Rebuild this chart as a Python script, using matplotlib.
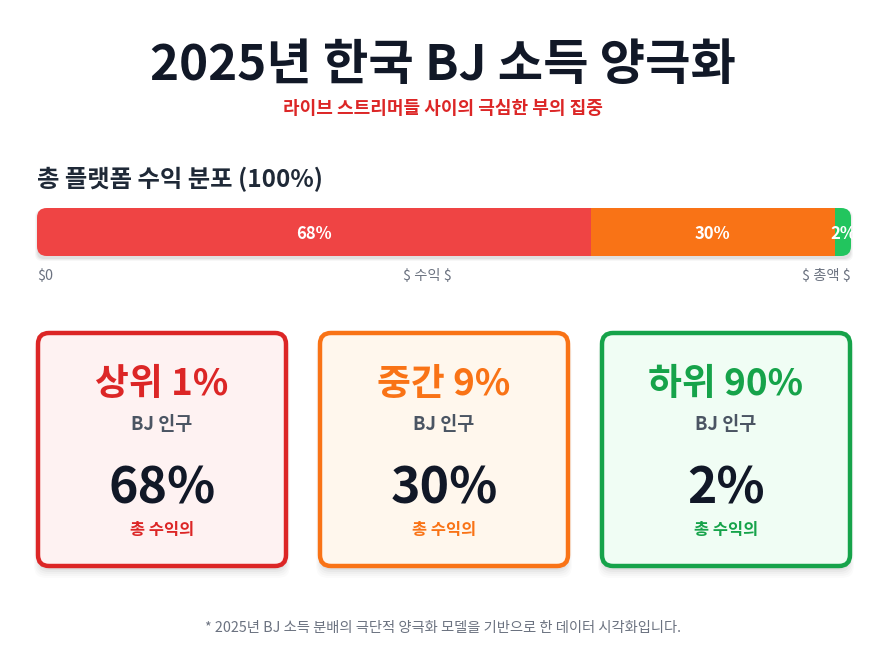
import numpy as np
import matplotlib.pyplot as plt
from matplotlib.patches import FancyBboxPatch

plt.rcParams['font.family'] = ['Noto Sans CJK KR', 'DejaVu Sans']

# 데이터
groups = ['상위 1%', '중간 9%', '하위 90%']
shares = [68, 30, 2]
bar_labels = ['68%', '30%', '2%']
main_colors = ['#dc2626', '#f97316', '#16a34a']
bar_colors = ['#ef4444', '#f97316', '#22c55e']
card_bg = ['#fef2f2', '#fff7ed', '#f0fdf4']
axis_labels = ['$0', '$ 수익 $', '$ 총액 $']

W, H = 886, 672
fig = plt.figure(figsize=(W / 100, H / 100), dpi=100)
fig.patch.set_facecolor('white')

# 전체 캔버스 (픽셀 좌표)
bg = fig.add_axes([0, 0, 1, 1])
bg.set_xlim(0, W)
bg.set_ylim(H, 0)
bg.axis('off')

bg.text(W / 2, 66, '2025년 한국 BJ 소득 양극화', ha='center', va='center',
        fontsize=35.5, fontweight='bold', color='#111827')
bg.text(W / 2, 108, '라이브 스트리머들 사이의 극심한 부의 집중', ha='center', va='center',
        fontsize=13, fontweight='bold', color='#dc2626')
bg.text(37, 179, '총 플랫폼 수익 분포 (100%)', ha='left', va='center',
        fontsize=17.5, fontweight='bold', color='#1f2937')

# 막대 그림자
bx0, bx1, by0, by1 = 37, 851, 208, 256
for i, a in enumerate([0.05, 0.04, 0.03]):
    sh = FancyBboxPatch((bx0 - i, by0 + 2), bx1 - bx0 + 2 * i, by1 - by0 + 1 + i,
                        boxstyle='round,pad=0,rounding_size=7', fc='black', ec='none', alpha=a)
    bg.add_patch(sh)

# 수익 분포 막대
bar_ax = fig.add_axes([bx0 / W, 1 - by1 / H, (bx1 - bx0) / W, (by1 - by0) / H])
bar_ax.set_xlim(0, sum(shares))
bar_ax.set_ylim(0, 1)
bar_ax.axis('off')
clip = FancyBboxPatch((0, 0), 1, 1, boxstyle='round,pad=0,rounding_size=0.012',
                      transform=bar_ax.transAxes, fc='none', ec='none',
                      mutation_aspect=(bx1 - bx0) / (by1 - by0))
bar_ax.add_patch(clip)
left = 0
for s, c, lab in zip(shares, bar_colors, bar_labels):
    b = bar_ax.barh(0.5, s, left=left, height=1, color=c, edgecolor='none')
    for r in b:
        r.set_clip_path(clip)
    t = bar_ax.text(left + s / 2, 0.46, lab, ha='center', va='center', color='white',
                    fontsize=12, fontweight='bold')
    t.set_clip_path(clip)
    left += s

# 축 라벨 (양끝 정렬, 가운데 라벨은 남은 간격을 균등 분배)
lab_kw = dict(va='center', fontsize=10.3, color='#6b7280', parse_math=False)
t0 = bg.text(bx0, 276, axis_labels[0], ha='left', **lab_kw)
t2 = bg.text(bx1, 276, axis_labels[2], ha='right', **lab_kw)
t1 = bg.text(0, 276, axis_labels[1], ha='left', **lab_kw)
r = fig.canvas.get_renderer()
w0 = t0.get_window_extent(r).width
w1 = t1.get_window_extent(r).width
w2 = t2.get_window_extent(r).width
gap = (bx1 - bx0 - w0 - w1 - w2) / 2
t1.set_x(bx0 + w0 + gap)

# 카드
card_x = [38, 320, 602]
cw, cy0, ch = 248, 333, 233
for x, g, s, mc, fc in zip(card_x, groups, shares, main_colors, card_bg):
    for i, a in enumerate([0.035, 0.03, 0.025, 0.02, 0.015]):
        sh = FancyBboxPatch((x - i, cy0 + 4 + i), cw + 2 * i, ch + i,
                            boxstyle='round,pad=0,rounding_size=12', fc='black', ec='none', alpha=a)
        bg.add_patch(sh)
    card = FancyBboxPatch((x, cy0), cw, ch, boxstyle='round,pad=0,rounding_size=11',
                          fc=fc, ec=mc, lw=3.2)
    bg.add_patch(card)
    cx = x + cw / 2
    bg.text(cx, 385, g, ha='center', va='center', fontsize=26.5, fontweight='bold', color=mc)
    bg.text(cx, 425, 'BJ 인구', ha='center', va='center', fontsize=13.3,
            fontweight='bold', color='#4b5563')
    bg.text(cx, 489, f'{s}%', ha='center', va='center', fontsize=36,
            fontweight='bold', color='#111827')
    bg.text(cx, 530, '총 수익의', ha='center', va='center', fontsize=11.8,
            fontweight='bold', color=mc)

bg.text(W / 2, 628, '* 2025년 BJ 소득 분배의 극단적 양극화 모델을 기반으로 한 데이터 시각화입니다.',
        ha='center', va='center', fontsize=10.3, style='italic', color='#6b7280')

fig.savefig('out.png', dpi=100, facecolor='white')
